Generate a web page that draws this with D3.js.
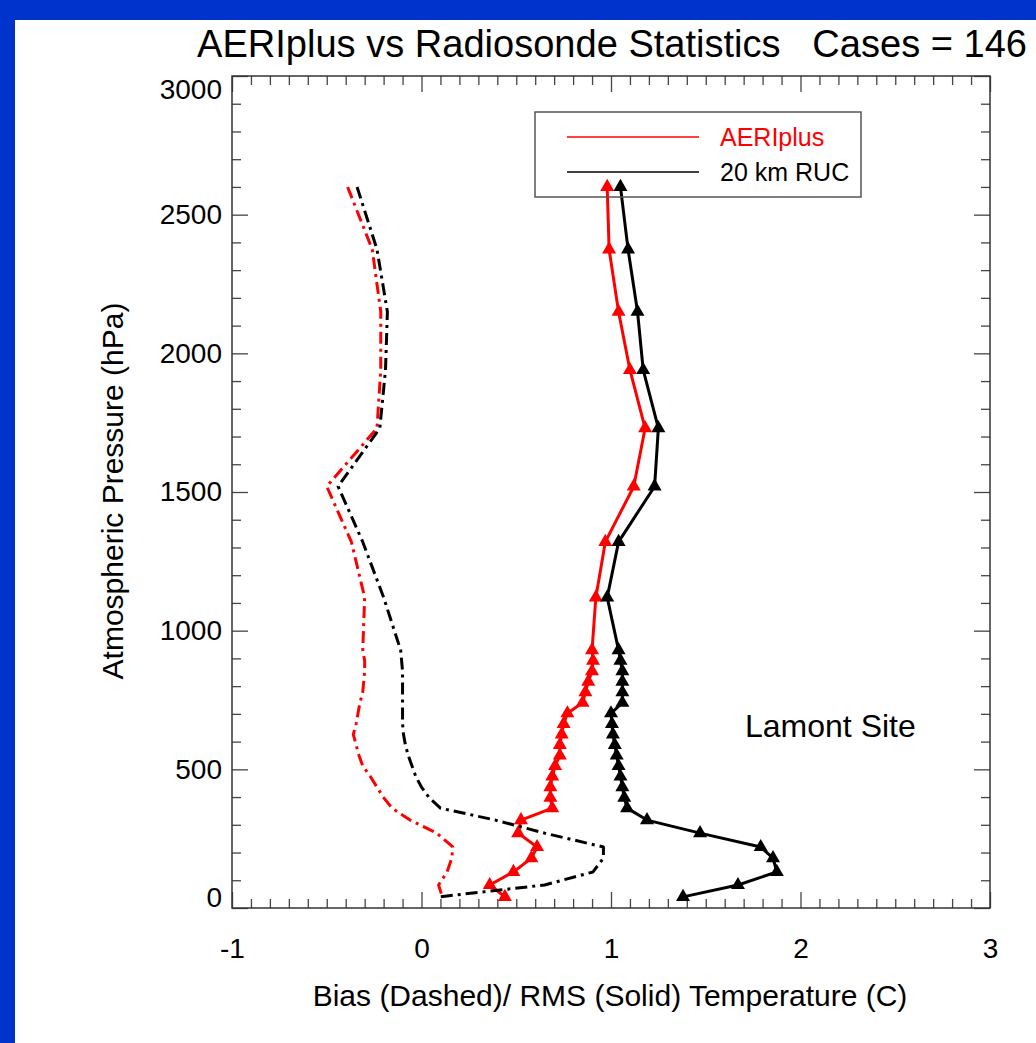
<!DOCTYPE html>
<html><head><meta charset="utf-8">
<script src="https://cdn.jsdelivr.net/npm/d3@7"></script>
<style>body{margin:0;background:#fff}svg{display:block}text{font-family:"Liberation Sans",Arial,Helvetica,sans-serif}</style>
</head><body><svg id="c" width="1036" height="1043"></svg>
<script>
// ---- data ----
const levels  = [2600,2375,2150,1940,1730,1520,1320,1120,930,892,854,816,778,740,702,664,626,588,550,512,474,436,398,360,317,270,220,180,130,83,40];
const aeriRms = [0.98,0.99,1.04,1.10,1.18,1.12,0.97,0.92,0.90,0.905,0.90,0.88,0.865,0.85,0.77,0.75,0.74,0.73,0.73,0.705,0.69,0.68,0.68,0.69,0.525,0.51,0.61,0.58,0.485,0.36,0.44];
const rucRms  = [1.05,1.09,1.14,1.17,1.25,1.23,1.04,0.98,1.04,1.05,1.06,1.06,1.06,1.06,1.00,1.005,1.01,1.02,1.03,1.04,1.05,1.06,1.07,1.085,1.19,1.47,1.79,1.855,1.875,1.67,1.38];
const aeriBias= [-0.39,-0.26,-0.215,-0.215,-0.235,-0.50,-0.37,-0.30,-0.31,-0.30,-0.30,-0.305,-0.31,-0.325,-0.335,-0.345,-0.36,-0.345,-0.33,-0.31,-0.27,-0.235,-0.20,-0.155,-0.06,0.08,0.165,0.16,0.135,0.09,0.11];
const rucBias = [-0.34,-0.235,-0.18,-0.19,-0.22,-0.44,-0.31,-0.20,-0.11,-0.105,-0.10,-0.10,-0.10,-0.10,-0.10,-0.10,-0.095,-0.085,-0.07,-0.05,-0.03,0.0,0.04,0.10,0.39,0.65,0.96,0.96,0.905,0.65,0.09];
const xMajor = [-1,0,1,2,3];
const yMajor = [0,500,1000,1500,2000,2500,3000];
const seriesNames = ["AERIplus","20 km RUC"];
const titleText = "AERIplus vs Radiosonde Statistics   Cases = 146";
const xTitle = "Bias (Dashed)/ RMS (Solid) Temperature (C)";
const yTitle = "Atmospheric Pressure (hPa)";
const siteText = "Lamont Site";

// ---- layout ----
const W=1036,H=1043;
const svg=d3.select("#c");
svg.append("rect").attr("width",W).attr("height",H).attr("fill","#0033cc");
svg.append("rect").attr("x",15).attr("y",20).attr("width",W-15).attr("height",H-20).attr("fill","#fff");
const P={l:232,t:76,r:990,b:908};
const x=d3.scaleLinear().domain([-1,3]).range([P.l,P.r]);
const y=d3.scaleLinear().domain([0,3000]).range([P.b,P.t]);
const xMinor=d3.range(-10,31).map(i=>i/10).filter(v=>Math.abs(v-Math.round(v))>1e-6);
const yMinor=d3.range(0,3001,100).filter(v=>v%500!==0);

function drawAxis(axis, tr){
  const g=svg.append("g").attr("transform",tr).call(axis);
  g.select(".domain").remove();
  g.selectAll(".tick line").attr("stroke","#444").attr("stroke-width",1.3);
  g.selectAll("text").attr("fill","#000").attr("font-size",28);
  return g;
}
const fmt=d=>String(d);
// bottom
drawAxis(d3.axisBottom(x).tickValues(xMajor).tickSize(-16).tickPadding(30).tickFormat(fmt),`translate(0,${P.b})`);
drawAxis(d3.axisBottom(x).tickValues(xMinor).tickSize(-9).tickFormat(""),`translate(0,${P.b})`);
// top
drawAxis(d3.axisTop(x).tickValues(xMajor).tickSize(-16).tickFormat(""),`translate(0,${P.t})`);
drawAxis(d3.axisTop(x).tickValues(xMinor).tickSize(-9).tickFormat(""),`translate(0,${P.t})`);
// left
const gl=drawAxis(d3.axisLeft(y).tickValues(yMajor).tickSize(-16).tickPadding(10).tickFormat(fmt),`translate(${P.l},0)`);
gl.selectAll(".tick text").attr("y",d=>d===3000?14:(d===0?-10:0));
drawAxis(d3.axisLeft(y).tickValues(yMinor).tickSize(-9).tickFormat(""),`translate(${P.l},0)`);
// right
drawAxis(d3.axisRight(y).tickValues(yMajor).tickSize(-16).tickFormat(""),`translate(${P.r},0)`);
drawAxis(d3.axisRight(y).tickValues(yMinor).tickSize(-9).tickFormat(""),`translate(${P.r},0)`);
// frame
svg.append("rect").attr("x",P.l).attr("y",P.t).attr("width",P.r-P.l).attr("height",P.b-P.t)
  .attr("fill","none").attr("stroke","#333").attr("stroke-width",1.5);

// ---- series ----
const line=d3.line().x(d=>x(d[0])).y(d=>y(d[1]));
function series(vals,color,dashed){
  const pts=vals.map((v,i)=>[v,levels[i]]);
  const p=svg.append("path").datum(pts).attr("d",line).attr("fill","none")
    .attr("stroke",color).attr("stroke-width",3).attr("stroke-linejoin","round");
  if(dashed){p.attr("stroke-dasharray","12,5,3,5");}
  else{
    svg.append("g").selectAll("path").data(pts).join("path")
      .attr("d",d3.symbol(d3.symbolTriangle,85)())
      .attr("transform",d=>`translate(${x(d[0])},${y(d[1])})`)
      .attr("fill",color);
  }
}
series(aeriRms,"#ff0000",false);
series(rucRms,"#000000",false);
series(aeriBias,"#ff0000",true);
series(rucBias,"#000000",true);

// ---- legend ----
svg.append("rect").attr("x",535).attr("y",112).attr("width",326).attr("height",85)
  .attr("fill","none").attr("stroke","#555").attr("stroke-width",1.5);
const legColors=["#ff0000","#000000"];
seriesNames.forEach((n,i)=>{
  const ly=137+i*35;
  svg.append("line").attr("x1",567).attr("x2",699).attr("y1",ly).attr("y2",ly)
    .attr("stroke",legColors[i]).attr("stroke-width",1.5);
  svg.append("text").attr("x",720).attr("y",ly+9).attr("font-size",25)
    .attr("fill",legColors[i]).text(n);
});

// ---- texts ----
svg.append("text").attr("x",197).attr("y",57).attr("font-size",38).style("white-space","pre")
  .attr("textLength",830).attr("lengthAdjust","spacingAndGlyphs")
  .attr("fill","#000").text(titleText);
svg.append("text").attr("x",610).attr("y",1006).attr("font-size",30).attr("text-anchor","middle")
  .attr("fill","#000").text(xTitle);
svg.append("text").attr("transform","translate(123,491) rotate(-90)").attr("font-size",30)
  .attr("text-anchor","middle").attr("fill","#000").text(yTitle);
svg.append("text").attr("x",745).attr("y",737).attr("font-size",32).attr("fill","#000").text(siteText);
</script></body></html>
